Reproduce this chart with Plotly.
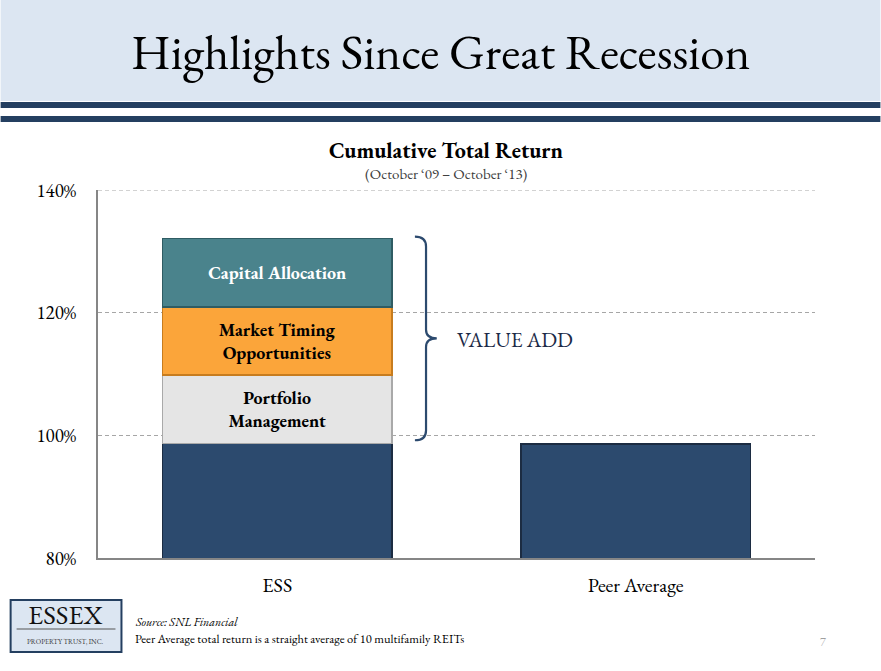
import plotly.graph_objects as go

# ---------------- data ----------------
categories = ["ESS", "Peer Average"]
base_return = [98.7, 98.6]            # cumulative total return (%)
portfolio_mgmt = [11.1, None]
market_timing = [11.1, None]
capital_alloc = [11.2, None]
segment_labels = ["Portfolio<br>Management", "Market Timing<br>Opportunities", "Capital Allocation"]
y_ticks = [80, 100, 120, 140]
y_tick_text = ["80%", "100%", "120%", "140%"]

# ---------------- geometry helpers ----------------
W, H = 881, 671
L, R, T, B = 97.5, 65.5, 190, 113
PW, PH = W - L - R, H - T - B

def px(x):
    return (x - L) / PW

def py(y):
    return (H - B - y) / PH

SERIF = "EB Garamond, Garamond, Liberation Serif, serif"
NAVY = "#2c4a6e"
GRID_DASH = "4px,3px"

xs = [0, 1]
fig = go.Figure()
fig.add_trace(go.Bar(x=xs, y=base_return, width=0.64, marker=dict(color=NAVY, line=dict(color="#1c2c42", width=1.5)),
                     hoverinfo="skip", showlegend=False))
fig.add_trace(go.Bar(x=xs, y=portfolio_mgmt, width=0.64, marker=dict(color="#e5e5e5", line=dict(color="#a9a9a9", width=1.5)),
                     text=["<b>" + segment_labels[0] + "</b>", ""], textposition="inside", insidetextanchor="middle",
                     textfont=dict(family=SERIF, size=18, color="#000000"), hoverinfo="skip", showlegend=False))
fig.add_trace(go.Bar(x=xs, y=market_timing, width=0.64, marker=dict(color="#fba53a", line=dict(color="#c77c1e", width=1.5)),
                     text=["<b>" + segment_labels[1] + "</b>", ""], textposition="inside", insidetextanchor="middle",
                     textfont=dict(family=SERIF, size=18, color="#000000"), hoverinfo="skip", showlegend=False))
fig.add_trace(go.Bar(x=xs, y=capital_alloc, width=0.64, marker=dict(color="#4a838c", line=dict(color="#2f5c63", width=1.5)),
                     text=["<b>" + segment_labels[2] + "</b>", ""], textposition="inside", insidetextanchor="middle",
                     textfont=dict(family=SERIF, size=18, color="#ffffff"), hoverinfo="skip", showlegend=False))

shapes = []
# header band and rules
shapes.append(dict(type="rect", xref="paper", yref="paper", x0=px(0), x1=px(W), y0=py(0), y1=py(101),
                   fillcolor="#dce6f2", line=dict(width=0), layer="below"))
shapes.append(dict(type="rect", xref="paper", yref="paper", x0=px(0), x1=px(W), y0=py(102), y1=py(108),
                   fillcolor="#243f60", line=dict(width=0), layer="below"))
shapes.append(dict(type="rect", xref="paper", yref="paper", x0=px(0), x1=px(W), y0=py(116), y1=py(122),
                   fillcolor="#243f60", line=dict(width=0), layer="below"))
# top gridline (at the edge of the plot area)
shapes.append(dict(type="line", xref="paper", yref="y", x0=0, x1=1, y0=y_ticks[-1], y1=y_ticks[-1],
                   line=dict(color="#a6a6a6", width=1, dash=GRID_DASH), layer="below"))
# logo box
shapes.append(dict(type="rect", xref="paper", yref="paper", x0=px(10), x1=px(121), y0=py(600), y1=py(652),
                   fillcolor="#dce6f2", line=dict(color="#243f60", width=2)))
shapes.append(dict(type="line", xref="paper", yref="paper", x0=px(16), x1=px(115), y0=py(629), y1=py(629),
                   line=dict(color="#555555", width=1)))

# curly brace (data coords)
bx0, bx1, bx2 = 0.384, 0.415, 0.445
ytop, ymid, ybot = 132.4, 115.8, 99.2
path = (f"M {bx0},{ytop} Q {bx1},{ytop} {bx1},{ytop-1.6} "
        f"L {bx1},{ymid+1.4} Q {bx1},{ymid} {bx2},{ymid} "
        f"Q {bx1},{ymid} {bx1},{ymid-1.4} "
        f"L {bx1},{ybot+1.6} Q {bx1},{ybot} {bx0},{ybot}")
shapes.append(dict(type="path", xref="x", yref="y", path=path, line=dict(color="#2c4a6e", width=2.2)))

annotations = [
    dict(text="Highlights Since Great Recession", xref="paper", yref="paper", x=px(440), y=py(52),
         showarrow=False, font=dict(family=SERIF, size=49, color="#000000"), xanchor="center", yanchor="middle"),
    dict(text="<b>Cumulative Total Return</b>", xref="paper", yref="paper", x=px(446), y=py(150),
         showarrow=False, font=dict(family=SERIF, size=22, color="#000000"), xanchor="center", yanchor="middle"),
    dict(text="(October \u201809 \u2013 October \u201813)", xref="paper", yref="paper", x=px(446), y=py(173),
         showarrow=False, font=dict(family=SERIF, size=15, color="#404040"), xanchor="center", yanchor="middle"),
    dict(text="VALUE ADD", xref="paper", yref="paper", x=px(455), y=py(339),
         showarrow=False, font=dict(family=SERIF, size=21, color="#1b2a47"), xanchor="left", yanchor="middle"),
    dict(text="ESSEX", xref="paper", yref="paper", x=px(65), y=py(614),
         showarrow=False, font=dict(family=SERIF, size=27, color="#111111"), xanchor="center", yanchor="middle"),
    dict(text="PROPERTY TRUST, INC.", xref="paper", yref="paper", x=px(65), y=py(641),
         showarrow=False, font=dict(family=SERIF, size=7, color="#333333"), xanchor="center", yanchor="middle"),
    dict(text="<i>Source: SNL Financial</i>", xref="paper", yref="paper", x=px(133), y=py(622),
         showarrow=False, font=dict(family=SERIF, size=12, color="#000000"), xanchor="left", yanchor="middle"),
    dict(text="Peer Average total return is a straight average of 10 multifamily REITs", xref="paper", yref="paper",
         x=px(133), y=py(638), showarrow=False, font=dict(family=SERIF, size=12.5, color="#000000"),
         xanchor="left", yanchor="middle"),
    dict(text="7", xref="paper", yref="paper", x=px(824), y=py(642),
         showarrow=False, font=dict(family=SERIF, size=12, color="#a0a0a0"), xanchor="center", yanchor="middle"),
]

fig.update_layout(
    width=W, height=H, barmode="stack",
    margin=dict(l=L, r=R, t=T, b=B),
    paper_bgcolor="#ffffff", plot_bgcolor="#ffffff",
    shapes=shapes, annotations=annotations,
    font=dict(family=SERIF, color="#000000"),
    xaxis=dict(range=[-0.5, 1.5], tickvals=xs, ticktext=categories, showgrid=False, zeroline=False,
               showline=True, linecolor="#868686", linewidth=2, ticks="", ticklabelstandoff=8,
               tickfont=dict(family=SERIF, size=20, color="#000000"), fixedrange=True),
    yaxis=dict(range=[80, 140], tickvals=y_ticks, ticktext=y_tick_text, showgrid=True, gridcolor="#a6a6a6",
               griddash=GRID_DASH, gridwidth=1, zeroline=False, showline=True, linecolor="#868686", linewidth=2,
               ticks="", ticklabelstandoff=16, tickfont=dict(family=SERIF, size=19, color="#000000"),
               fixedrange=True),
)

fig.write_html("out.html", config={"displayModeBar": False},
               post_script="document.body.style.margin='0';document.body.style.overflow='hidden';")
